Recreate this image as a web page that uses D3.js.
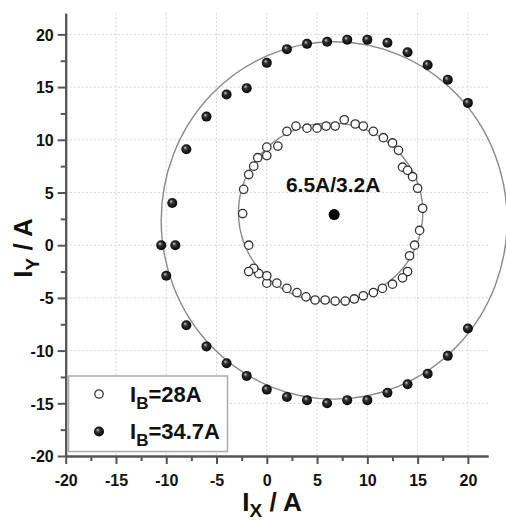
<!DOCTYPE html>
<html>
<head>
<meta charset="utf-8">
<script src="https://cdn.jsdelivr.net/npm/d3@7"></script>
<style>
  body { margin: 0; background: #fff; }
  text { font-family: "Liberation Sans", Arial, sans-serif; font-weight: bold; fill: #111; }
</style>
</head>
<body>
<div id="graph"></div>
<script>
// I_B = 28A (open circles)
const openX = [-2.4, -2.3, -1.8, -1.3, -0.9, 0, 0, 1.1, 2, 2.9, 4, 5, 5.9, 6.8, 7.7, 8.8, 9.6, 10.6, 11.6, 12.5, 13.1, 13.5, 14, 14.5, 15, 15.5, 15.2, 14.7, 14.2, 14, 13.5, 12.5, 11.5, 10.6, 9.6, 8.7, 7.8, 6.8, 5.8, 4.8, 3.9, 3, 2, 1, 0, 0, -0.8, -1.3, -1.8, -1.8];
const openY = [3.0, 5.3, 6.7, 7.5, 8.3, 8.5, 9.3, 9.4, 10.8, 11.3, 11.1, 11.1, 11.3, 11.3, 11.9, 11.5, 11.3, 10.8, 10.2, 9.7, 9.0, 7.4, 7.1, 6.5, 5.4, 3.5, 1.4, 0, -1.0, -2.5, -3.1, -3.7, -4.1, -4.5, -4.8, -5.1, -5.3, -5.3, -5.2, -5.2, -4.9, -4.5, -4.1, -3.6, -3.6, -2.9, -2.7, -2.2, -2.5, 0];

// I_B = 34.7A (filled circles)
const fillX = [-10.5, -9.1, -9.4, -8, -6, -4, -2, 0, 2, 4, 6, 8, 10, 12, 14, 16, 18, 20, 20, 18, 16, 14, 12, 10, 8, 6, 4, 2, 0, -2, -4, -6, -8, -10];
const fillY = [0, 0, 4.0, 9.1, 12.2, 14.3, 14.9, 17.3, 18.6, 19.1, 19.3, 19.5, 19.5, 19.2, 18.3, 17.1, 15.7, 13.5, -7.9, -10.5, -12.2, -13.2, -14.0, -14.7, -14.7, -15.0, -14.7, -14.4, -13.7, -12.4, -11.2, -9.6, -7.6, -2.9];

// fitted curves: centre x, centre y, radius x, radius y (data units)
const fitCx = [6.35, 6.7];
const fitCy = [3.1, 2.35];
const fitRx = [9.17, 17.2];
const fitRy = [8.5, 16.95];

const centre = [6.7, 2.9];
const centreLabel = "6.5A/3.2A";

const majorTicks = [-20, -15, -10, -5, 0, 5, 10, 15, 20];
const minorTicks = [-17.5, -12.5, -7.5, -2.5, 2.5, 7.5, 12.5, 17.5];
const legendLabels = [["I", "B", "=28A"], ["I", "B", "=34.7A"]];

const width = 506, height = 520;
const plotLeft = 65.7, plotRight = 488, plotTop = 13.3, plotBottom = 456;

const svg = d3.select("#graph")
  .append("svg")
  .attr("width", width)
  .attr("height", height);

const defs = svg.append("defs");
const grad = defs.append("radialGradient")
  .attr("id", "ball")
  .attr("cx", "50%").attr("cy", "50%").attr("r", "55%")
  .attr("fx", "35%").attr("fy", "32%");
grad.append("stop").attr("offset", "0%").attr("stop-color", "#cfcfcf");
grad.append("stop").attr("offset", "35%").attr("stop-color", "#333");
grad.append("stop").attr("offset", "100%").attr("stop-color", "#000");

const x = d3.scaleLinear().domain([-20, 22]).range([plotLeft, plotRight]);
const y = d3.scaleLinear().domain([-20, 22]).range([plotBottom, plotTop]);

// dotted grid
svg.append("g")
  .selectAll("line")
  .data(majorTicks.filter(d => d > -20))
  .enter()
  .append("line")
    .attr("x1", d => x(d)).attr("x2", d => x(d))
    .attr("y1", y(22)).attr("y2", y(-20))
    .attr("stroke", "#d4d4d4")
    .attr("stroke-dasharray", "2,2");

svg.append("g")
  .selectAll("line")
  .data(majorTicks.filter(d => d > -20))
  .enter()
  .append("line")
    .attr("x1", x(-20)).attr("x2", x(22))
    .attr("y1", d => y(d)).attr("y2", d => y(d))
    .attr("stroke", "#d4d4d4")
    .attr("stroke-dasharray", "2,2");

// axes (plain hyphen for negatives, like the original)
const fmt = d => String(d);

const xAxis = svg.append("g")
  .attr("transform", "translate(0," + plotBottom + ")")
  .call(d3.axisBottom(x).tickValues(majorTicks).tickSize(8).tickSizeOuter(0).tickFormat(fmt));
svg.append("g")
  .attr("transform", "translate(0," + plotBottom + ")")
  .call(d3.axisBottom(x).tickValues(minorTicks).tickSize(5).tickSizeOuter(0).tickFormat(""));

const yAxis = svg.append("g")
  .attr("transform", "translate(" + plotLeft + ",0)")
  .call(d3.axisLeft(y).tickValues(majorTicks).tickSize(8).tickSizeOuter(0).tickFormat(fmt));
svg.append("g")
  .attr("transform", "translate(" + plotLeft + ",0)")
  .call(d3.axisLeft(y).tickValues(minorTicks).tickSize(5).tickSizeOuter(0).tickFormat(""));

svg.selectAll(".domain, .tick line")
  .attr("stroke", "#555")
  .attr("stroke-width", 2);

xAxis.selectAll("text")
  .attr("font-size", 16)
  .attr("dy", "1.2em")
  .attr("fill", "#111");
yAxis.selectAll("text")
  .attr("font-size", 16)
  .attr("x", -12)
  .attr("dy", "0.36em")
  .attr("fill", "#111");

// fitted circles
svg.append("g")
  .selectAll("ellipse")
  .data(fitCx.map((c, i) => ({ cx: c, cy: fitCy[i], rx: fitRx[i], ry: fitRy[i] })))
  .enter()
  .append("ellipse")
    .attr("cx", d => x(d.cx))
    .attr("cy", d => y(d.cy))
    .attr("rx", d => x(d.rx) - x(0))
    .attr("ry", d => y(0) - y(d.ry))
    .attr("fill", "none")
    .attr("stroke", "#8a8a8a")
    .attr("stroke-width", 1.4);

// open points
svg.append("g")
  .selectAll("circle")
  .data(openX.map((v, i) => [v, openY[i]]))
  .enter()
  .append("circle")
    .attr("cx", d => x(d[0]))
    .attr("cy", d => y(d[1]))
    .attr("r", 4.2)
    .attr("fill", "#fff")
    .attr("stroke", "#333")
    .attr("stroke-width", 1.3);

// filled points
svg.append("g")
  .selectAll("circle")
  .data(fillX.map((v, i) => [v, fillY[i]]))
  .enter()
  .append("circle")
    .attr("cx", d => x(d[0]))
    .attr("cy", d => y(d[1]))
    .attr("r", 5)
    .attr("fill", "url(#ball)");

// centre marker and label
svg.append("circle")
  .attr("cx", x(centre[0]))
  .attr("cy", y(centre[1]))
  .attr("r", 5.5)
  .attr("fill", "#000");

svg.append("text")
  .attr("x", x(centre[0]) - 1)
  .attr("y", y(centre[1]) - 23)
  .attr("text-anchor", "middle")
  .attr("font-size", 21)
  .text(centreLabel);

// axis titles
const xt = svg.append("text")
  .attr("x", 272)
  .attr("y", 511)
  .attr("text-anchor", "middle")
  .attr("font-size", 26);
xt.append("tspan").text("I");
xt.append("tspan").attr("font-size", 19).attr("dy", 6).text("X");
xt.append("tspan").attr("dy", -6).text(" / A");

const yt = svg.append("text")
  .attr("transform", "translate(32,248) rotate(-90)")
  .attr("text-anchor", "middle")
  .attr("font-size", 26);
yt.append("tspan").text("I");
yt.append("tspan").attr("font-size", 19).attr("dy", 7).text("Y");
yt.append("tspan").attr("dy", -7).text(" / A");

// legend
const legend = svg.append("g");
legend.append("rect")
  .attr("x", 68.5).attr("y", 376)
  .attr("width", 159).attr("height", 75.5)
  .attr("fill", "#fff")
  .attr("stroke", "#aaa")
  .attr("stroke-width", 1.5);

const rows = legend.selectAll(".row")
  .data(legendLabels)
  .enter()
  .append("g")
    .attr("class", "row")
    .attr("transform", (d, i) => "translate(0," + (394 + i * 37.5) + ")");

rows.append("circle")
  .attr("cx", 99)
  .attr("r", (d, i) => i === 0 ? 4.2 : 5)
  .attr("fill", (d, i) => i === 0 ? "#fff" : "url(#ball)")
  .attr("stroke", (d, i) => i === 0 ? "#333" : "none")
  .attr("stroke-width", 1.3);

const lt = rows.append("text")
  .attr("x", 130)
  .attr("y", 7.5)
  .attr("font-size", 22);
lt.append("tspan").text(d => d[0]);
lt.append("tspan").attr("font-size", 17).attr("dy", 7).text(d => d[1]);
lt.append("tspan").attr("dy", -7).text(d => d[2]);
</script>
</body>
</html>
